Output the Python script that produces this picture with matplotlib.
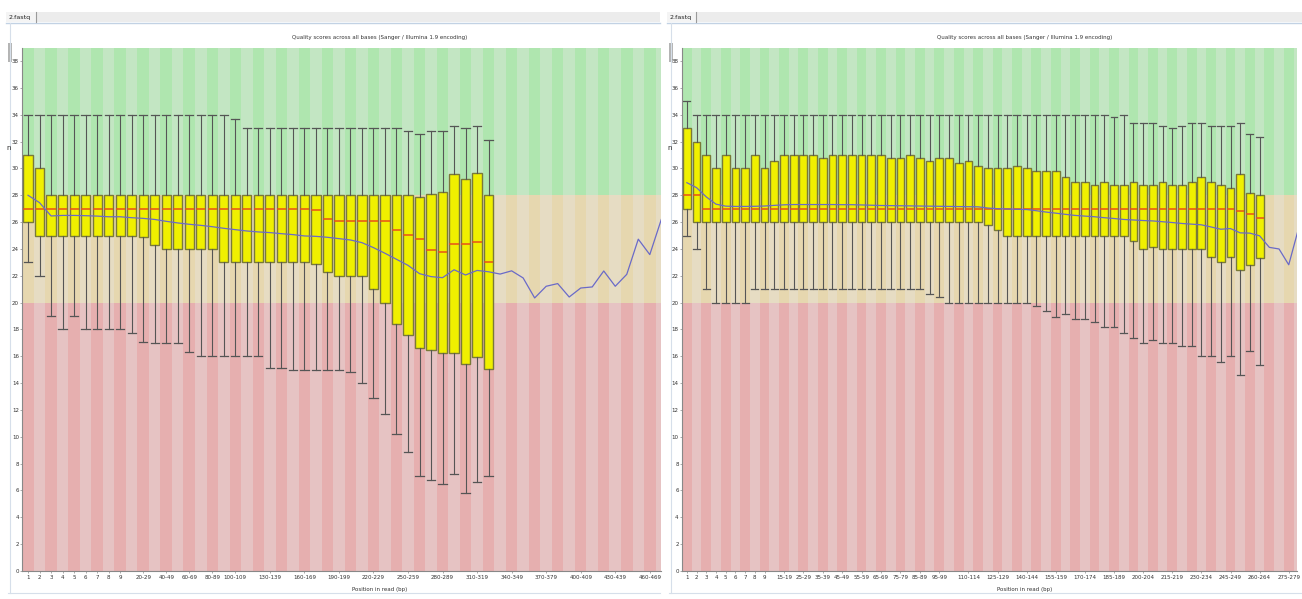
import matplotlib
matplotlib.use("Agg")
import matplotlib.pyplot as plt
from matplotlib.patches import Rectangle

W, H = 1302, 599

# ---------------- data ----------------
left_categories = [str(i) for i in range(1, 10)] + [f"{s}-{s + 9}" for s in range(10, 480, 10)]
left_tick_labels = ["1", "2", "3", "4", "5", "6", "7", "8", "9", "20-29", "40-49", "60-69",
                    "80-89", "100-109", "130-139", "160-169", "190-199", "220-229", "250-259",
                    "280-289", "310-319", "340-349", "370-379", "400-409", "430-439", "460-469"]
left_q1 = [26.0, 25.0, 25.0, 25.0, 25.0, 25.0, 25.0, 25.0, 25.0, 25.0, 24.9, 24.3, 24.0, 24.0,
           24.0, 24.0, 24.0, 23.0, 23.0, 23.0, 23.0, 23.0, 23.0, 23.0, 23.0, 22.9, 22.25, 22.0,
           22.0, 22.0, 21.0, 20.0, 18.4, 17.6, 16.65, 16.45, 16.25, 16.25, 15.45, 15.95, 15.05]
left_median = [27.0, 27.0, 27.0, 27.0, 27.0, 27.0, 27.0, 27.0, 27.0, 27.0, 27.0,
               27.0, 27.0, 27.0, 27.0, 27.0, 27.0, 27.0, 27.0, 27.0, 27.0, 27.0, 27.0, 27.0,
               27.0, 26.9, 26.2, 26.05, 26.05, 26.05, 26.05, 26.05, 25.4, 25.05, 24.75, 23.95,
               23.75, 24.35, 24.35, 24.5, 23.05]
left_q3 = [31.0, 30.0, 28.0, 28.0, 28.0, 28.0, 28.0, 28.0, 28.0, 28.0, 28.0, 28.0, 28.0, 28.0,
           28.0, 28.0, 28.0, 28.0, 28.0, 28.0, 28.0, 28.0, 28.0, 28.0, 28.0, 28.0, 28.0, 28.0,
           28.0, 28.0, 28.0, 28.0, 28.0, 28.0, 27.9, 28.1, 28.25, 29.55, 29.25, 29.65, 28.0]
left_low = [23.0, 22.0, 19.0, 18.0, 19.0, 18.0, 18.0, 18.0, 18.0, 17.75, 17.1, 17.0, 17.0, 17.0,
            16.35, 16.0, 16.0, 16.0, 16.0, 16.0, 16.0, 15.1, 15.1, 15.0, 15.0, 15.0, 15.0, 15.0,
            14.8, 14.0, 12.9, 11.7, 10.2, 8.9, 7.05, 6.75, 6.45, 7.2, 5.85, 6.65, 7.05]
left_high = [34.0, 34.0, 34.0, 34.0, 34.0, 34.0, 34.0, 34.0, 34.0, 34.0, 34.0, 34.0, 34.0, 34.0,
             34.0, 34.0, 34.0, 34.0, 33.7, 33.0, 33.0, 33.0, 33.0, 33.0, 33.0, 33.0, 33.0, 33.0,
             33.0, 33.0, 33.0, 33.0, 33.0, 32.8, 32.6, 32.8, 32.8, 33.2, 33.0, 33.2, 32.1]
left_mean = [28.0, 27.45, 26.46, 26.5, 26.5, 26.48, 26.45, 26.4, 26.4, 26.33, 26.28, 26.2, 26.06,
             25.94, 25.84, 25.76, 25.66, 25.54, 25.44, 25.34, 25.27, 25.22, 25.14, 25.07, 24.97,
             24.94, 24.87, 24.77, 24.67, 24.47, 24.1, 23.68, 23.23, 22.78, 22.16, 21.94, 21.86,
             22.45, 22.06, 22.4, 22.3, 22.13, 22.37, 21.84, 20.35, 21.22, 21.42, 20.42, 21.09,
             21.17, 22.36, 21.22, 22.11, 24.73, 23.58, 26.2]

right_categories = [str(i) for i in range(1, 10)] + [f"{s}-{s + 4}" for s in range(10, 300, 5)]
right_tick_labels = ["1", "2", "3", "4", "5", "6", "7", "8", "9", "15-19", "25-29", "35-39",
                     "45-49", "55-59", "65-69", "75-79", "85-89", "95-99", "110-114", "125-129",
                     "140-144", "155-159", "170-174", "185-189", "200-204", "215-219", "230-234",
                     "245-249", "260-264", "275-279"]
right_q1 = [27.0, 26.0, 26.0, 26.0, 26.0, 26.0, 26.0, 26.0, 26.0, 26.0, 26.0, 26.0, 26.0, 26.0,
            26.0, 26.0, 26.0, 26.0, 26.0, 26.0, 26.0, 26.0, 26.0, 26.0, 26.0, 26.0, 26.0, 26.0,
            26.0, 26.0, 26.0, 25.8, 25.4, 25.0, 25.0, 25.0, 25.0, 25.0, 25.0, 25.0, 25.0, 25.0,
            25.0, 25.0, 25.0, 25.0, 24.6, 24.0, 24.15, 24.0, 24.0, 24.0, 24.0, 24.0, 23.4, 23.0,
            23.4, 22.4, 22.8, 23.35]
right_median = [28.0, 28.0, 27.0, 27.0, 27.0, 27.0, 27.0, 27.0, 27.0, 27.0, 27.0, 27.0, 27.0,
                27.0, 27.0, 27.0, 27.0, 27.0, 27.0, 27.0, 27.0, 27.0, 27.0, 27.0, 27.0, 27.0,
                27.0, 27.0, 27.0, 27.0, 27.0, 27.0, 27.0, 27.0, 27.0, 27.0, 27.0, 27.0, 27.0,
                27.0, 27.0, 27.0, 27.0, 27.0, 27.0, 27.0, 27.0, 27.0, 27.0, 27.0, 27.0, 27.0,
                27.0, 27.0, 27.0, 27.0, 27.0, 26.8, 26.6, 26.3]
right_q3 = [33.0, 32.0, 31.0, 30.0, 31.0, 30.0, 30.0, 31.0, 30.0, 30.55, 31.0, 31.0, 31.0, 31.0,
            30.8, 31.0, 31.0, 31.0, 31.0, 31.0, 31.0, 30.8, 30.8, 31.0, 30.8, 30.55, 30.8, 30.8,
            30.4, 30.55, 30.18, 30.0, 30.0, 30.0, 30.18, 30.0, 29.8, 29.8, 29.8, 29.37, 29.0,
            29.0, 28.76, 29.0, 28.76, 28.76, 29.0, 28.76, 28.76, 29.0, 28.76, 28.76, 29.0, 29.37,
            29.0, 28.76, 28.56, 29.57, 28.2, 28.0]
right_low = [25.0, 24.0, 21.0, 20.0, 20.0, 20.0, 20.0, 21.0, 21.0, 21.0, 21.0, 21.0, 21.0, 21.0,
             21.0, 21.0, 21.0, 21.0, 21.0, 21.0, 21.0, 21.0, 21.0, 21.0, 21.0, 20.65, 20.4, 20.0,
             20.0, 20.0, 20.0, 20.0, 20.0, 20.0, 20.0, 20.0, 19.75, 19.35, 18.95, 19.15, 18.8,
             18.8, 18.55, 18.15, 18.15, 17.75, 17.35, 17.0, 17.2, 17.0, 17.0, 16.75, 16.75, 16.0,
             16.0, 15.6, 16.0, 14.6, 16.4, 15.35]
right_high = [35.0, 34.0, 34.0, 34.0, 34.0, 34.0, 34.0, 34.0, 34.0, 34.0, 34.0, 34.0, 34.0, 34.0,
              34.0, 34.0, 34.0, 34.0, 34.0, 34.0, 34.0, 34.0, 34.0, 34.0, 34.0, 34.0, 34.0, 34.0,
              34.0, 34.0, 34.0, 34.0, 34.0, 34.0, 34.0, 34.0, 34.0, 34.0, 34.0, 34.0, 34.0, 34.0,
              34.0, 34.0, 33.8, 34.0, 33.4, 33.4, 33.4, 33.2, 33.0, 33.2, 33.4, 33.4, 33.2, 33.2,
              33.2, 33.4, 32.6, 32.35]
right_mean = [28.94, 28.57, 27.88, 27.34, 27.19, 27.17, 27.17, 27.18, 27.2, 27.25, 27.29, 27.31,
              27.31, 27.31, 27.31, 27.31, 27.3, 27.3, 27.28, 27.26, 27.24, 27.23, 27.22, 27.21,
              27.2, 27.19, 27.18, 27.17, 27.16, 27.15, 27.14, 27.05, 27.0, 26.98, 26.96, 26.94,
              26.85, 26.75, 26.67, 26.58, 26.5, 26.45, 26.4, 26.33, 26.27, 26.2, 26.16, 26.12,
              26.09, 26.03, 25.97, 25.9, 25.85, 25.8, 25.64, 25.47, 25.52, 25.2, 25.18, 24.98,
              24.12, 24.0, 22.82, 25.5]

title_text = "Quality scores across all bases (Sanger / Illumina 1.9 encoding)"
xlabel_text = "Position in read (bp)"
tab_text = "2.fastq"

# ---------------- style ----------------
ZONES = [(0, 20, ("#e6afaf", "#e6c3c3")),
         (20, 28, ("#e6d7af", "#e6dcc3")),
         (28, 39, ("#afe6af", "#c3e6c3"))]
YMAX = 39.0
FS = 4.0
TXT = "#333333"

fig = plt.figure(figsize=(W / 100, H / 100), dpi=100)

# decoration layer in pixel coordinates
bg = fig.add_axes([0, 0, 1, 1], zorder=-5)
bg.set_xlim(0, W)
bg.set_ylim(H, 0)
bg.axis("off")


def panel_frame(x0, x1, tab_x, divider_x):
    bg.add_patch(Rectangle((x0, 12), x1 - x0, 10, fc="#ececec", ec="none"))
    bg.add_patch(Rectangle((x0, 12), divider_x - x0, 10, fc="#f4f4f4", ec="none"))
    bg.plot([x0, x1], [22.5, 22.5], color="#c2d2e4", lw=1.0)
    bg.plot([divider_x, divider_x], [12, 22], color="#9a9a9a", lw=0.8)
    bg.text(tab_x, 17.5, tab_text, fontsize=4.6, color="#222222", va="center", ha="left")
    bg.plot([x0 + 4, x0 + 4], [23, 593], color="#d6dfea", lw=0.8)
    bg.plot([x0 + 2, x1], [593, 593], color="#d6dfea", lw=0.8)
    bg.add_patch(Rectangle((x0 + 1.5, 43), 4, 19, fc="#b4b4b4", ec="none"))
    bg.text(x0 + 0.5, 148, "n", fontsize=5, color="#222222", va="center", ha="left")


panel_frame(6, 660, 9, 36)
panel_frame(667, 1302, 670, 696)


def draw_panel(rect, cats, ticks, q1, med, q3, lo, hi, mean, xmax, title_cx):
    ax = fig.add_axes(rect)
    n = len(mean)
    for i in range(n + 1):
        for y0, y1, cols in ZONES:
            ax.add_patch(Rectangle((i - 0.5, y0), 1, y1 - y0, fc=cols[i % 2], ec="none", zorder=0))
    stats = [dict(med=m, q1=a, q3=b, whislo=l, whishi=h)
             for a, m, b, l, h in zip(q1, med, q3, lo, hi)]
    ax.bxp(stats, positions=list(range(len(stats))), widths=0.8, capwidths=0.72,
           patch_artist=True, showfliers=False, manage_ticks=False,
           boxprops=dict(facecolor="#f0f000", edgecolor="#7a7a38", linewidth=1.0),
           medianprops=dict(color="#e8501a", linewidth=1.1),
           whiskerprops=dict(color="#555555", linewidth=0.8),
           capprops=dict(color="#555555", linewidth=0.9))
    ax.plot(list(range(n)), mean, color="#6a6ac8", lw=0.9, zorder=6)
    ax.set_xlim(-0.5, xmax)
    ax.set_ylim(0, YMAX)
    pos = [cats.index(t) for t in ticks]
    ax.set_xticks(pos)
    ax.set_xticklabels(ticks)
    ax.set_yticks(list(range(0, 39, 2)))
    ax.tick_params(axis="both", labelsize=FS, labelcolor=TXT, length=1.2, width=0.5,
                   color="#888888")
    ax.tick_params(axis="x", pad=1.8)
    ax.tick_params(axis="y", pad=1.2)
    for s in ("top", "right"):
        ax.spines[s].set_visible(False)
    for s in ("left", "bottom"):
        ax.spines[s].set_color("#888888")
        ax.spines[s].set_linewidth(0.8)
    ax.set_axisbelow(False)
    fig.text(title_cx / W, 1 - 38 / H, title_text, fontsize=FS, color=TXT, ha="center", va="center")
    fig.text(title_cx / W, 1 - 589 / H, xlabel_text, fontsize=FS, color=TXT, ha="center", va="center")
    return ax


top_px, bot_px = 47.7, 571.0
h = (bot_px - top_px) / H
b = (H - bot_px) / H

draw_panel([22.3 / W, b, (660.5 - 22.3) / W, h], left_categories, left_tick_labels,
           left_q1, left_median, left_q3, left_low, left_high, left_mean, 54.93, 380)
draw_panel([682.0 / W, b, (1297.0 - 682.0) / W, h], right_categories, right_tick_labels,
           right_q1, right_median, right_q3, right_low, right_high, right_mean, 62.85, 1025)

fig.savefig("out.png", dpi=100)
